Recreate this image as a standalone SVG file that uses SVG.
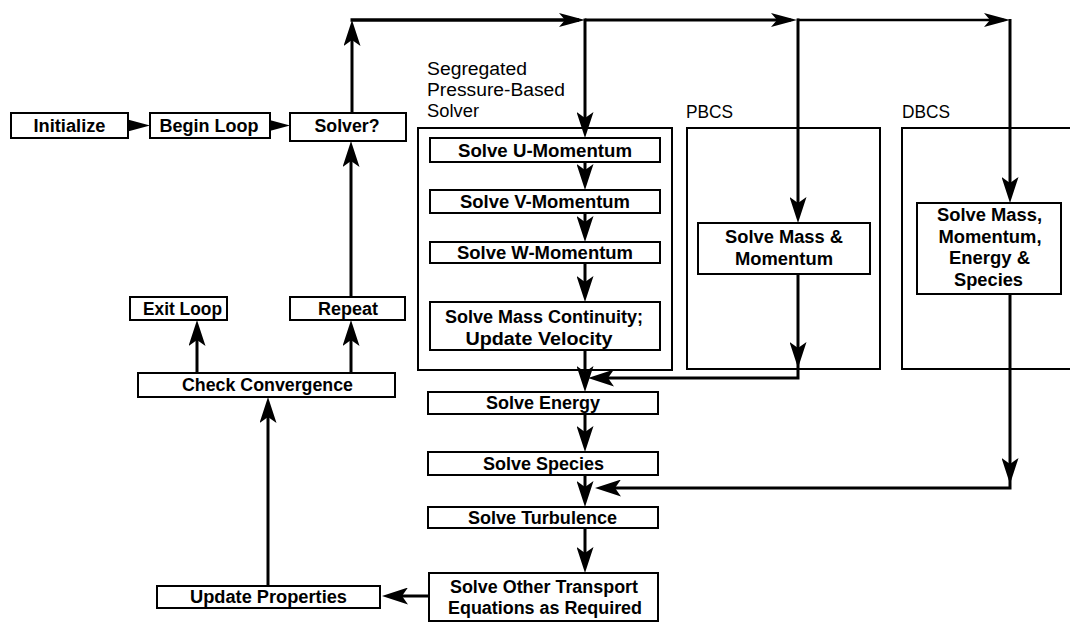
<svg xmlns="http://www.w3.org/2000/svg" width="1070" height="623" viewBox="0 0 1070 623">
<style>
.box{fill:#fff;stroke:#000;stroke-width:2}
.frame{fill:none;stroke:#000;stroke-width:2}
.t{font-family:"Liberation Sans",Arial,sans-serif;font-weight:bold;font-size:18px;text-anchor:middle;fill:#000}
.lbl{font-family:"Liberation Sans",Arial,sans-serif;font-size:18px;fill:#000}
.c{fill:none;stroke:#000;stroke-width:3;stroke-linejoin:miter}
</style>
<defs>
<marker id="ah" markerUnits="userSpaceOnUse" viewBox="0 0 26 17" markerWidth="26" markerHeight="17" refX="20" refY="8.5" orient="auto">
<path d="M26,8.5 L0,0 L6,8.5 L0,17 Z" fill="#000"/>
</marker>
<marker id="ahs" markerUnits="userSpaceOnUse" viewBox="0 0 26 14" markerWidth="26" markerHeight="14" refX="20" refY="7" orient="auto">
<path d="M26,7 L0,0 L6,7 L0,14 Z" fill="#000"/>
</marker>
</defs>

<g id="frames">
<rect id="seg-frame" class="frame" x="418" y="128" width="254" height="242"/>
<rect id="pbcs-frame" class="frame" x="687" y="128" width="193" height="241"/>
<rect id="dbcs-frame" class="frame" x="902" y="128" width="180" height="241"/>
<text class="lbl" x="427" y="75" textLength="100" lengthAdjust="spacingAndGlyphs">Segregated</text>
<text class="lbl" x="427" y="96" textLength="138" lengthAdjust="spacingAndGlyphs">Pressure-Based</text>
<text class="lbl" x="427" y="117" textLength="52" lengthAdjust="spacingAndGlyphs">Solver</text>
<text class="lbl" x="686" y="118" textLength="47" lengthAdjust="spacingAndGlyphs">PBCS</text>
<text class="lbl" x="902" y="118" textLength="48" lengthAdjust="spacingAndGlyphs">DBCS</text>
</g>

<g id="connectors">
<path class="c" d="M128,125.5 H144" marker-end="url(#ahs)"/>
<path class="c" d="M270,125.5 H284" marker-end="url(#ahs)"/>
<path class="c" d="M352,113 V26" marker-end="url(#ah)"/>
<path class="c" style="stroke-width:3.5" d="M350.5,20 H579" marker-end="url(#ahs)"/>
<path class="c" d="M585,20 H791" marker-end="url(#ahs)"/>
<path class="c" style="stroke-width:2.5" d="M797,20 H1004" marker-end="url(#ahs)"/>
<path class="c" d="M585,18.5 V132" marker-end="url(#ah)"/>
<path class="c" d="M585,162 V184" marker-end="url(#ah)"/>
<path class="c" d="M585,213 V236" marker-end="url(#ah)"/>
<path class="c" d="M585,263 V296" marker-end="url(#ah)"/>
<path class="c" d="M585,350 V386" marker-end="url(#ah)"/>
<path class="c" d="M798,18.5 V217" marker-end="url(#ah)"/>
<path class="c" d="M798,274 V362" marker-end="url(#ah)"/>
<path class="c" d="M798,360 V378 H594" marker-end="url(#ah)"/>
<path class="c" d="M1010,19 V197" marker-end="url(#ah)"/>
<path class="c" d="M1010,294 V478" marker-end="url(#ah)"/>
<path class="c" d="M1010,476 V488 H601" marker-end="url(#ah)"/>
<path class="c" d="M585,414 V446" marker-end="url(#ah)"/>
<path class="c" d="M585,475 V501" marker-end="url(#ah)"/>
<path class="c" d="M585,528 V567" marker-end="url(#ah)"/>
<path class="c" d="M429,596 H388" marker-end="url(#ah)"/>
<path class="c" d="M268,586 V403" marker-end="url(#ah)"/>
<path class="c" d="M197,373 V326" marker-end="url(#ah)"/>
<path class="c" d="M351,373 V326" marker-end="url(#ah)"/>
<path class="c" d="M351,297 V147" marker-end="url(#ah)"/>
</g>

<g id="initialize"><rect class="box" x="11" y="113" width="117" height="25"/><text class="t" x="69.5" y="132" textLength="72" lengthAdjust="spacingAndGlyphs">Initialize</text></g>
<g id="begin-loop"><rect class="box" x="150" y="113" width="120" height="25"/><text class="t" x="209" y="132" textLength="99" lengthAdjust="spacingAndGlyphs">Begin Loop</text></g>
<g id="solver"><rect class="box" x="290" y="113" width="116" height="28"/><text class="t" x="347" y="132" textLength="65" lengthAdjust="spacingAndGlyphs">Solver?</text></g>

<g id="u-mom"><rect class="box" x="430" y="138" width="230" height="24"/><text class="t" x="545" y="157" textLength="174" lengthAdjust="spacingAndGlyphs">Solve U-Momentum</text></g>
<g id="v-mom"><rect class="box" x="430" y="190" width="230" height="23"/><text class="t" x="545" y="208" textLength="170" lengthAdjust="spacingAndGlyphs">Solve V-Momentum</text></g>
<g id="w-mom"><rect class="box" x="430" y="242" width="230" height="21"/><text class="t" x="545" y="259" textLength="176" lengthAdjust="spacingAndGlyphs">Solve W-Momentum</text></g>
<g id="mass-cont"><rect class="box" x="430" y="302" width="230" height="48"/>
<text class="t" x="544" y="323" textLength="198" lengthAdjust="spacingAndGlyphs">Solve Mass Continuity;</text>
<text class="t" x="539" y="345" textLength="147" lengthAdjust="spacingAndGlyphs">Update Velocity</text></g>

<g id="pbcs-solve"><rect class="box" x="698" y="223" width="172" height="51"/>
<text class="t" x="784" y="243" textLength="118" lengthAdjust="spacingAndGlyphs">Solve Mass &amp;</text>
<text class="t" x="784" y="265" textLength="98" lengthAdjust="spacingAndGlyphs">Momentum</text></g>

<g id="dbcs-solve"><rect class="box" x="917" y="203" width="144" height="91"/>
<text class="t" x="989.5" y="221" textLength="105" lengthAdjust="spacingAndGlyphs">Solve Mass,</text>
<text class="t" x="990" y="243" textLength="103" lengthAdjust="spacingAndGlyphs">Momentum,</text>
<text class="t" x="989.5" y="264" textLength="81" lengthAdjust="spacingAndGlyphs">Energy &amp;</text>
<text class="t" x="988.5" y="286" textLength="69" lengthAdjust="spacingAndGlyphs">Species</text></g>

<g id="exit-loop"><rect class="box" x="130" y="297" width="97" height="23"/><text class="t" x="182.5" y="315" textLength="79" lengthAdjust="spacingAndGlyphs">Exit Loop</text></g>
<g id="repeat"><rect class="box" x="290" y="297" width="115" height="23"/><text class="t" x="348" y="315" textLength="60" lengthAdjust="spacingAndGlyphs">Repeat</text></g>
<g id="check-conv"><rect class="box" x="138" y="373" width="257" height="24"/><text class="t" x="267.5" y="391" textLength="171" lengthAdjust="spacingAndGlyphs">Check Convergence</text></g>

<g id="energy"><rect class="box" x="428" y="392" width="230" height="22"/><text class="t" x="543" y="409" textLength="114" lengthAdjust="spacingAndGlyphs">Solve Energy</text></g>
<g id="species"><rect class="box" x="428" y="452" width="230" height="23"/><text class="t" x="543.5" y="470" textLength="121" lengthAdjust="spacingAndGlyphs">Solve Species</text></g>
<g id="turbulence"><rect class="box" x="428" y="507" width="230" height="21"/><text class="t" x="542.5" y="524" textLength="149" lengthAdjust="spacingAndGlyphs">Solve Turbulence</text></g>
<g id="other"><rect class="box" x="429" y="573" width="229" height="48"/>
<text class="t" x="544" y="593" textLength="188" lengthAdjust="spacingAndGlyphs">Solve Other Transport</text>
<text class="t" x="545" y="614" textLength="194" lengthAdjust="spacingAndGlyphs">Equations as Required</text></g>
<g id="update-props"><rect class="box" x="157" y="586" width="223" height="22"/><text class="t" x="268.5" y="603" textLength="157" lengthAdjust="spacingAndGlyphs">Update Properties</text></g>
</svg>
